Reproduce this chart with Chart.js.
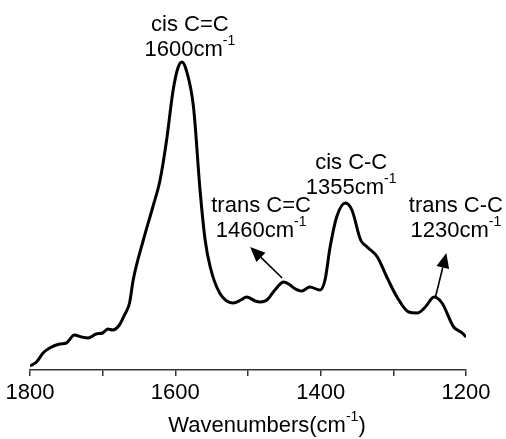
<!DOCTYPE html>
<html>
<head>
<meta charset="utf-8">
<script src="https://cdn.jsdelivr.net/npm/chart.js@4.4.0/dist/chart.umd.min.js"></script>
<style>
  html, body { margin: 0; padding: 0; background: #fff; }
  #wrap { width: 506px; height: 439px; }
</style>
</head>
<body>
<div id="wrap"><canvas id="myChart" width="506" height="439"></canvas></div>
<script>
// spectrum (wavenumber, relative intensity)
const wavenumbers = [1800, 1791, 1782, 1773, 1759, 1750, 1739, 1729, 1720, 1709, 1700, 1693, 1686, 1677, 1670, 1663,
  1658, 1644, 1631, 1621, 1612, 1603, 1596, 1591, 1585, 1575, 1566, 1559, 1552, 1539, 1520, 1510, 1502, 1490, 1483,
  1474, 1463, 1451, 1444, 1437, 1426, 1415, 1401, 1394, 1387, 1378, 1366, 1357, 1345, 1336, 1322, 1309, 1295, 1279,
  1267, 1256, 1244, 1233, 1217, 1205, 1200];
const intensity = [4, 8, 17, 22, 26, 27, 35, 33, 32, 36, 37, 41, 40, 45, 55, 67,
  90, 130, 163, 190, 230, 280, 303, 308, 300, 263, 180, 130, 103, 77, 67, 70, 73, 69, 68,
  70, 80, 88, 86, 82, 79, 83, 80, 90, 123, 153, 167, 160, 130, 123, 113, 93, 73, 58,
  57, 63, 73, 67, 43, 37, 33];

const xTicks = [1800, 1600, 1400, 1200];

// peak annotations
const peakNames = ['cis C=C', 'trans C=C', 'cis C-C', 'trans C-C'];
const peakPositions = ['1600', '1460', '1355', '1230'];
// label anchor (wavenumber, intensity) of the first text line
const labelWn = [1580, 1482, 1358, 1214];
const labelInt = [345, 164, 207, 164];
// arrows: from (wn, int) to (wn, int)
const arrowFrom = [null, [1453, 92], null, [1242, 73]];
const arrowTo = [null, [1497, 123], null, [1227, 117]];

const FONT = "'Liberation Sans', Arial, sans-serif";
const FS = 22;

// text with a superscript part, centred on x
function drawSup(ctx, base, sup, after, x, y, size) {
  const supSize = Math.round(size * 0.62);
  ctx.font = size + 'px ' + FONT;
  const wb = ctx.measureText(base).width;
  const wa = after ? ctx.measureText(after).width : 0;
  ctx.font = supSize + 'px ' + FONT;
  const ws = sup ? ctx.measureText(sup).width : 0;
  const x0 = x - (wb + ws + wa) / 2;
  ctx.textAlign = 'left';
  ctx.textBaseline = 'middle';
  ctx.font = size + 'px ' + FONT;
  ctx.fillText(base, x0, y);
  if (after) ctx.fillText(after, x0 + wb + ws, y);
  if (sup) {
    ctx.font = supSize + 'px ' + FONT;
    ctx.fillText(sup, x0 + wb, y - size * 0.38);
  }
}

const annotations = {
  id: 'annotations',
  afterDraw(chart) {
    const ctx = chart.ctx;
    const xs = chart.scales.x, ys = chart.scales.y;
    ctx.save();
    ctx.fillStyle = '#000';
    ctx.strokeStyle = '#000';
    peakNames.forEach((name, i) => {
      const px = xs.getPixelForValue(labelWn[i]);
      const py = ys.getPixelForValue(labelInt[i]);
      drawSup(ctx, name, '', '', px, py, FS);
      drawSup(ctx, peakPositions[i] + 'cm', '-1', '', px, py + 25, FS);
      if (arrowFrom[i]) {
        const x1 = xs.getPixelForValue(arrowFrom[i][0]), y1 = ys.getPixelForValue(arrowFrom[i][1]);
        const x2 = xs.getPixelForValue(arrowTo[i][0]), y2 = ys.getPixelForValue(arrowTo[i][1]);
        const a = Math.atan2(y2 - y1, x2 - x1);
        const hl = 15, hw = 6.5;
        const bx = x2 - hl * Math.cos(a), by = y2 - hl * Math.sin(a);
        ctx.lineWidth = 1.6;
        ctx.beginPath();
        ctx.moveTo(x1, y1);
        ctx.lineTo(bx, by);
        ctx.stroke();
        ctx.beginPath();
        ctx.moveTo(x2, y2);
        ctx.lineTo(bx + hw * Math.sin(a), by - hw * Math.cos(a));
        ctx.lineTo(bx - hw * Math.sin(a), by + hw * Math.cos(a));
        ctx.closePath();
        ctx.fill();
      }
    });
    // axis title
    const ca = chart.chartArea;
    drawSup(ctx, 'Wavenumbers(cm', '-1', ')', (ca.left + ca.right) / 2 + 19, 426, FS);
    ctx.restore();
  }
};

const ctx = document.getElementById('myChart');
new Chart(ctx, {
  type: 'line',
  data: {
    datasets: [{
      data: wavenumbers.map((w, i) => ({ x: w, y: intensity[i] })),
      borderColor: '#000',
      borderWidth: 3,
      pointRadius: 0,
      cubicInterpolationMode: 'monotone',
      fill: false
    }]
  },
  options: {
    responsive: false,
    animation: false,
    layout: { padding: { left: 30, right: 40, top: 50, bottom: 0 } },
    plugins: { legend: { display: false }, tooltip: { enabled: false } },
    scales: {
      x: {
        type: 'linear',
        reverse: true,
        min: 1200,
        max: 1800,
        afterFit(scale) { scale.height = 69; },
        ticks: {
          stepSize: 100,
          color: '#000',
          padding: 4,
          font: { family: FONT, size: FS },
          maxRotation: 0,
          autoSkip: false,
          callback: v => xTicks.includes(v) ? String(v) : ''
        },
        grid: { drawOnChartArea: false, color: '#333', tickLength: 6, lineWidth: 1.5 },
        border: { color: '#333', width: 1.5 }
      },
      y: {
        display: false,
        min: 0,
        max: 320
      }
    }
  },
  plugins: [annotations]
});
</script>
</body>
</html>
